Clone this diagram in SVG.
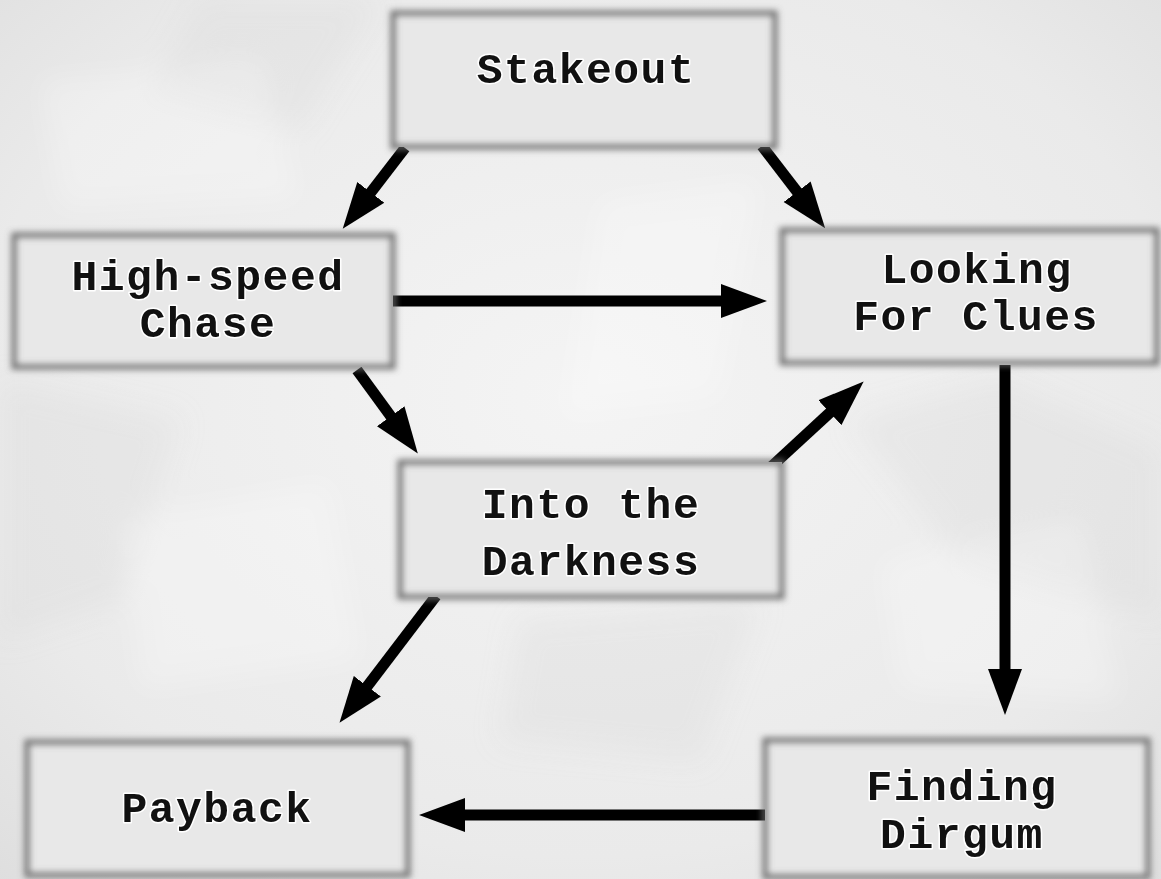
<svg xmlns="http://www.w3.org/2000/svg" width="1161" height="879" viewBox="0 0 1161 879">
  <style>
    .box { fill: #e8e8e8; }
    .edge { fill: none; stroke: #6e6e6e; stroke-width: 5; filter: url(#soft); }
    .lbl { font-family: "Liberation Mono", "DejaVu Sans Mono", monospace; font-weight: bold; font-size: 43px; letter-spacing: 1.5px; fill: #111; text-anchor: middle; stroke: #ffffff; stroke-width: 3; paint-order: stroke; stroke-linejoin: round; }
    .conn { stroke: #000; stroke-width: 11; fill: none; marker-end: url(#head); }
    .crease { fill: #ffffff; opacity: 0.25; }
    .shade { fill: #d4d4d4; opacity: 0.25; }
  </style>
  <defs>
    <filter id="soft" x="-10%" y="-10%" width="120%" height="120%">
      <feGaussianBlur stdDeviation="3"/>
    </filter>
    <filter id="bgblur" x="-20%" y="-20%" width="140%" height="140%">
      <feGaussianBlur stdDeviation="14"/>
    </filter>
    <radialGradient id="bg" cx="50%" cy="45%" r="75%">
      <stop offset="0" stop-color="#f4f4f4"/>
      <stop offset="0.7" stop-color="#eaeaea"/>
      <stop offset="1" stop-color="#dedede"/>
    </radialGradient>
    <linearGradient id="paper" x1="0" y1="0" x2="0" y2="1">
      <stop offset="0" stop-color="#e2e2e2"/>
      <stop offset="0.5" stop-color="#ebebeb"/>
      <stop offset="1" stop-color="#e0e0e0"/>
    </linearGradient>
    <marker id="head" markerUnits="userSpaceOnUse" markerWidth="48" markerHeight="36" viewBox="0 -18 48 36" refX="10" refY="0" orient="auto">
      <path d="M0,-17 L46,0 L0,17 z" fill="#000"/>
    </marker>
  </defs>

  <g id="background">
    <rect width="1161" height="879" fill="url(#bg)"/>
    <g filter="url(#bgblur)">
      <polygon class="shade" points="0,380 180,420 120,600 0,640"/>
      <polygon class="shade" points="520,620 760,600 700,760 500,740"/>
      <polygon class="shade" points="850,420 1000,380 1161,450 1161,620 960,560"/>
      <polygon class="shade" points="200,0 380,0 300,130 150,90"/>
      <polygon class="crease" points="40,80 260,60 300,200 60,210"/>
      <polygon class="crease" points="600,200 760,180 720,400 560,420"/>
      <polygon class="crease" points="880,560 1080,520 1120,700 900,690"/>
      <polygon class="crease" points="120,520 330,480 360,660 140,690"/>
    </g>
  </g>

  <g id="connectors">
    <line class="conn" x1="405" y1="148" x2="364.7" y2="200.3"/>
    <line class="conn" x1="762" y1="146" x2="803.2" y2="199.7"/>
    <line class="conn" x1="390" y1="301" x2="731" y2="301"/>
    <line class="conn" x1="357" y1="370" x2="396.6" y2="424.3"/>
    <line class="conn" x1="772" y1="466" x2="837.2" y2="405.9"/>
    <line class="conn" x1="1005" y1="365" x2="1005" y2="679"/>
    <line class="conn" x1="436" y1="596" x2="361.3" y2="694.2"/>
    <line class="conn" x1="767" y1="815" x2="455" y2="815"/>
  </g>

  <g id="node-stakeout">
    <rect class="box" x="393" y="13" width="382" height="134" fill="url(#paper)"/>
    <rect class="edge" x="393" y="13" width="382" height="134"/>
    <text class="lbl" x="586" y="83">Stakeout</text>
  </g>

  <g id="node-highspeed">
    <rect class="box" x="14" y="235" width="379" height="132" fill="url(#paper)"/>
    <rect class="edge" x="14" y="235" width="379" height="132"/>
    <text class="lbl" x="208" y="290">High-speed</text>
    <text class="lbl" x="208" y="337">Chase</text>
  </g>

  <g id="node-looking">
    <rect class="box" x="782" y="230" width="375" height="133" fill="url(#paper)"/>
    <rect class="edge" x="782" y="230" width="375" height="133"/>
    <text class="lbl" x="977" y="283">Looking</text>
    <text class="lbl" x="976" y="330">For Clues</text>
  </g>

  <g id="node-into">
    <rect class="box" x="400" y="462" width="382" height="135" fill="url(#paper)"/>
    <rect class="edge" x="400" y="462" width="382" height="135"/>
    <text class="lbl" x="591" y="518">Into the</text>
    <text class="lbl" x="591" y="575">Darkness</text>
  </g>

  <g id="node-payback">
    <rect class="box" x="27" y="742" width="381" height="133" fill="url(#paper)"/>
    <rect class="edge" x="27" y="742" width="381" height="133"/>
    <text class="lbl" x="217" y="822">Payback</text>
  </g>

  <g id="node-finding">
    <rect class="box" x="765" y="740" width="383" height="137" fill="url(#paper)"/>
    <rect class="edge" x="765" y="740" width="383" height="137"/>
    <text class="lbl" x="962" y="800">Finding</text>
    <text class="lbl" x="962" y="848">Dirgum</text>
  </g>
</svg>
